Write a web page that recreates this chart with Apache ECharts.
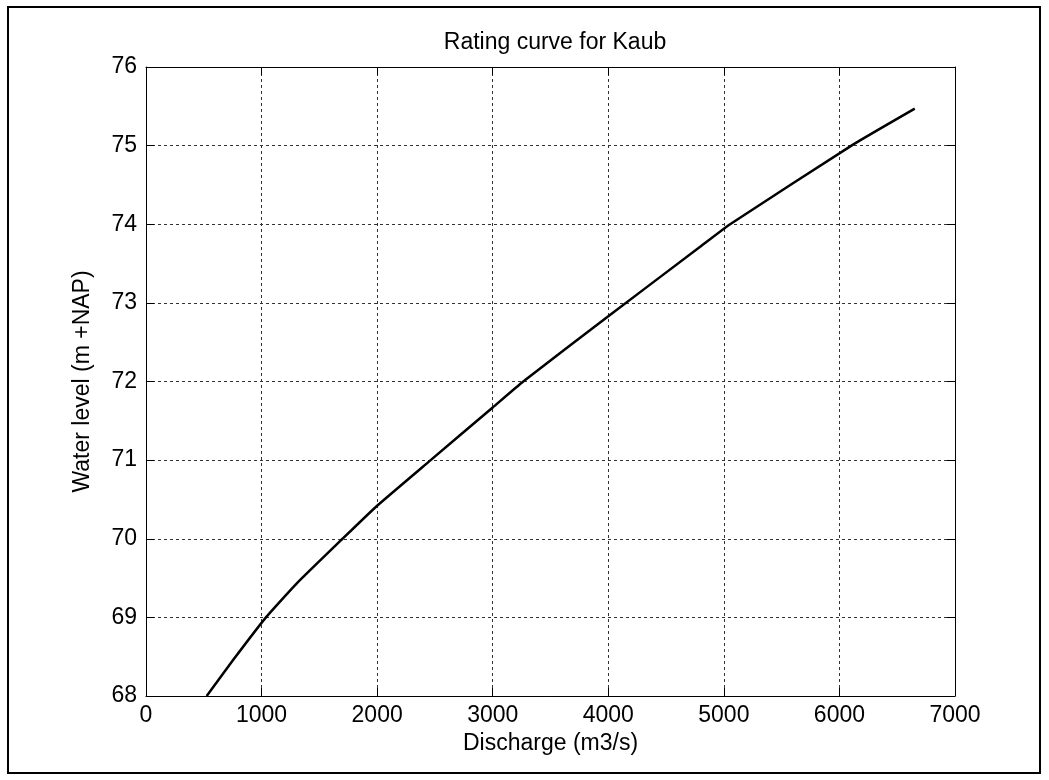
<!DOCTYPE html>
<html>
<head>
<meta charset="utf-8">
<script src="https://cdn.jsdelivr.net/npm/echarts@6/dist/echarts.min.js"></script>
<style>
html,body{margin:0;padding:0;background:#fff;}
#chart{width:1049px;height:780px;}
</style>
</head>
<body>
<div id="chart"></div>
<script>
// Discharge (m3/s) and water level (m +NAP)
const discharge = [525, 755, 1038, 1303, 1701, 2000, 2463, 3000, 3264, 4000, 4792, 5054, 6104, 6652];
const waterLevel = [68.00, 68.46, 69.00, 69.43, 70.00, 70.42, 71.00, 71.67, 72.00, 72.83, 73.71, 74.00, 75.00, 75.47];
const xTicks = [0, 1000, 2000, 3000, 4000, 5000, 6000, 7000];
const yTicks = [68, 69, 70, 71, 72, 73, 74, 75, 76];

const FONT = 'Liberation Sans, Arial, sans-serif';
const FS = 23;
const points = discharge.map((x, i) => [x, waterLevel[i]]);

const gridLine = { show: true, lineStyle: { color: '#333', width: 1, type: [3, 3] } };
const axLine = { show: true, onZero: false, lineStyle: { color: '#000', width: 1 } };
const tick = { show: true, inside: true, length: 8, lineStyle: { color: '#000', width: 1 } };

const chart = echarts.init(document.getElementById('chart'), null, { renderer: 'canvas' });
chart.setOption({
  animation: false,
  backgroundColor: '#fff',
  title: {
    text: 'Rating curve for Kaub',
    left: 550, top: 26, textAlign: 'center',
    textStyle: { fontFamily: FONT, fontSize: FS, fontWeight: 'normal', color: '#000' }
  },
  grid: { left: 146, top: 67, right: 94, bottom: 84, show: false },
  xAxis: [{
    type: 'value', min: xTicks[0], max: xTicks[xTicks.length - 1], interval: 1000,
    position: 'bottom',
    name: 'Discharge (m3/s)', nameLocation: 'middle', nameGap: 36,
    nameTextStyle: { fontFamily: FONT, fontSize: FS, color: '#000' },
    axisLine: axLine, axisTick: tick, splitLine: gridLine,
    axisLabel: { fontFamily: FONT, fontSize: FS, color: '#000', margin: 8, formatter: v => String(v) }
  }, {
    type: 'value', min: xTicks[0], max: xTicks[xTicks.length - 1], interval: 1000,
    position: 'top',
    axisLine: axLine, axisTick: tick, splitLine: { show: false }, axisLabel: { show: false }
  }],
  yAxis: [{
    type: 'value', min: yTicks[0], max: yTicks[yTicks.length - 1], interval: 1,
    position: 'left',
    name: 'Water level (m +NAP)', nameLocation: 'middle', nameGap: 52, nameRotate: 90,
    nameTextStyle: { fontFamily: FONT, fontSize: FS, color: '#000' },
    axisLine: axLine, axisTick: tick, splitLine: gridLine,
    axisLabel: { fontFamily: FONT, fontSize: FS, color: '#000', margin: 9, formatter: v => String(v) }
  }, {
    type: 'value', min: yTicks[0], max: yTicks[yTicks.length - 1], interval: 1,
    position: 'right',
    axisLine: axLine, axisTick: tick, splitLine: { show: false }, axisLabel: { show: false }
  }],
  graphic: [{
    type: 'rect', silent: true,
    shape: { x: 8, y: 7, width: 1032, height: 766 },
    style: { fill: 'none', stroke: '#000', lineWidth: 2 }
  }],
  series: [{
    type: 'line',
    data: points,
    xAxisIndex: 0, yAxisIndex: 0,
    showSymbol: false,
    smooth: 0.15,
    lineStyle: { color: '#000', width: 2.5 }
  }]
});
</script>
</body>
</html>
